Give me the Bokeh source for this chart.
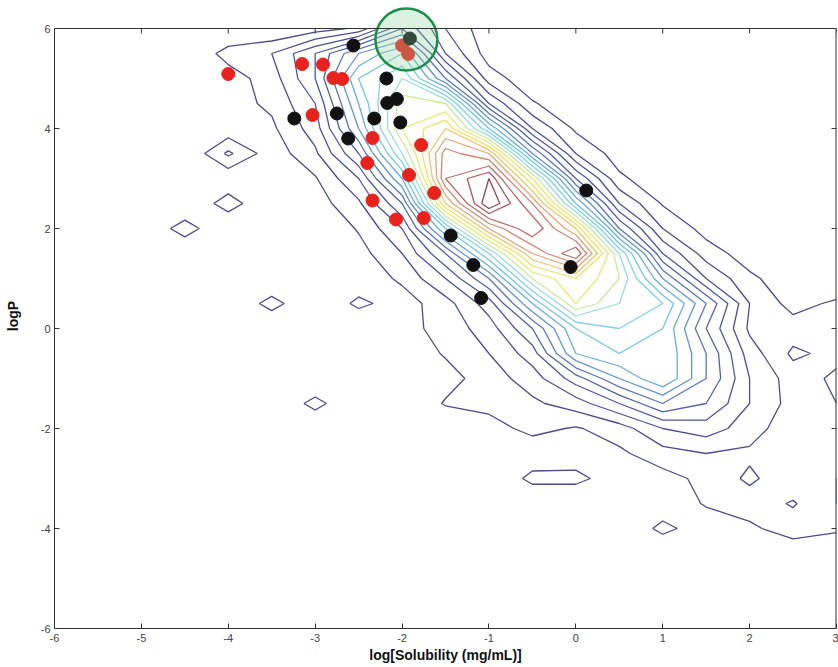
import numpy as np
from bokeh.plotting import figure
from bokeh.models import FixedTicker, Range1d, Span
from bokeh.embed import file_html
from bokeh.resources import INLINE

# ---------------- data ----------------
# density grid (compound counts), columns = grid_x, rows = grid_y (top row first)
grid_x = [-6.0, -5.5, -5.0, -4.5, -4.0, -3.5, -3.0, -2.5, -2.0, -1.5,
          -1.0, -0.5, 0.0, 0.5, 1.0, 1.5, 2.0, 2.5, 3.0]
grid_y = [6.0, 5.5, 5.0, 4.5, 4.0, 3.5, 3.0, 2.5, 2.0, 1.5, 1.0, 0.5, 0.0,
          -0.5, -1.0, -1.5, -2.0, -2.5, -3.0, -3.5, -4.0, -4.5, -5.0, -5.5, -6.0]
density_rows = [
    [0, 0, 0, 0, 0, 0, 0.5, 1.2, 5, 2, 0.3, 0, 0, 0, 0, 0, 0, 0, 0],
    [0, 0, 0, 0, 1.4, 2, 4, 7, 9, 3, 0.5, 0, 0, 0, 0, 0, 0, 0, 0],
    [0, 0, 0, 0, 0.5, 1.5, 4, 9, 11, 6, 1.5, 0.3, 0, 0, 0, 0, 0, 0, 0],
    [0, 0, 0, 0, 0.6, 1.2, 3, 8, 12.5, 12, 4, 1.1, 0.3, 0, 0, 0, 0, 0, 0],
    [0, 0, 0, 0, 0.3, 0.8, 2.5, 7, 13, 15, 9, 3, 0.8, 0.1, 0, 0, 0, 0, 0],
    [0, 0, 0, 0, 2.2, 0.4, 1.8, 5, 11, 17.5, 16, 7, 2, 0.5, 0, 0, 0, 0, 0],
    [0, 0, 0, 0, 0.2, 0.2, 0.9, 3, 8, 18, 20, 13, 5, 1.2, 0.3, 0, 0, 0, 0],
    [0, 0, 0, 0, 1.5, 0, 0.5, 1.8, 5, 15, 21, 17, 9, 3, 0.9, 0.2, 0, 0, 0],
    [0, 0, 0, 1.5, 0, 0, 0, 1.1, 3, 9, 16, 19, 15, 6, 2, 0.6, 0.1, 0, 0],
    [0, 0, 0, 0, 0, 0, 0, 0.6, 2, 5, 10, 16, 19, 11, 4, 1.5, 0.5, 0, 0],
    [0, 0, 0, 0, 0, 0, 0, 0.3, 1.2, 3, 6, 12, 14, 12, 7, 3, 1.2, 0.4, 0],
    [0, 0, 0, 0, 0, 1.4, 0, 1.25, 0.5, 1.6, 3.5, 8, 13, 11, 10, 6, 2, 0.6, 1.2],
    [0, 0, 0, 0, 0, 0, 0, 0, 0.6, 1.4, 2.5, 5, 9, 10, 9, 5, 1.8, 1.5, 1.2],
    [0, 0, 0, 0, 0, 0, 0, 0, 0.3, 1.1, 2, 3.5, 8, 9, 9, 6, 2.5, 0.8, 1.3],
    [0, 0, 0, 0, 0, 0, 0, 0, 0, 0.6, 1.5, 2.5, 4.5, 7, 9, 6, 3, 1.5, 0.8],
    [0, 0, 0, 0, 0, 0, 1.35, 0, 0, 1.1, 1.3, 1.8, 2.5, 4, 6, 5, 3, 1.6, 1.0],
    [0, 0, 0, 0, 0, 0, 0, 0, 0, 0, 0.6, 1.3, 0.9, 1.5, 3, 3.5, 2.5, 1.3, 1.1],
    [0, 0, 0, 0, 0, 0, 0, 0, 0, 0, 0, 0.3, 0.4, 0.8, 1.6, 2, 1.8, 1.2, 1.3],
    [0, 0, 0, 0, 0, 0, 0, 0, 0, 0, 0, 1.3, 1.3, 0.4, 0.6, 1.3, 2.2, 1.3, 1.0],
    [0, 0, 0, 0, 0, 0, 0, 0, 0, 0, 0, 0, 0, 0, 0.3, 1.1, 1.5, 2.1, 1.0],
    [0, 0, 0, 0, 0, 0, 0, 0, 0, 0, 0, 0, 0, 0, 1.3, 0.4, 0.8, 1.5, 1.1],
    [0, 0, 0, 0, 0, 0, 0, 0, 0, 0, 0, 0, 0, 0, 0, 0, 0, 0.3, 0.5],
    [0, 0, 0, 0, 0, 0, 0, 0, 0, 0, 0, 0, 0, 0, 0, 0, 0, 0, 0],
    [0, 0, 0, 0, 0, 0, 0, 0, 0, 0, 0, 0, 0, 0, 0, 0, 0, 0, 0],
    [0, 0, 0, 0, 0, 0, 0, 0, 0, 0, 0, 0, 0, 0, 0, 0, 0, 0, 0],
]
contour_levels = [1, 2, 3, 4, 5, 6, 7, 8, 9, 10, 11, 12, 13, 14, 15, 16, 17, 18, 19, 20]

# compounds (log solubility, logP)
black_x = [-2.56, -1.91, -2.18, -2.17, -2.06, -3.24, -2.75, -2.32, -2.02,
           -2.62, -1.44, -1.18, -1.09, -0.06, 0.12]
black_y = [5.66, 5.80, 5.00, 4.51, 4.59, 4.20, 4.30, 4.20, 4.12,
           3.80, 1.86, 1.27, 0.61, 1.23, 2.76]
red_x = [-4.00, -3.15, -2.91, -2.79, -2.69, -3.03, -2.34, -2.40, -1.92,
         -1.78, -1.63, -2.34, -2.07, -1.75, -2.00, -1.93]
red_y = [5.09, 5.29, 5.28, 5.01, 4.99, 4.27, 3.81, 3.31, 3.07,
         3.67, 2.71, 2.56, 2.18, 2.21, 5.66, 5.49]
highlight_x = [-1.95]
highlight_y = [5.78]

x_ticks = [-6, -5, -4, -3, -2, -1, 0, 1, 2, 3]
y_ticks = [-6, -4, -2, 0, 2, 4, 6]
x_lo, x_hi = -6, 3
y_lo, y_hi = -6, 6

# ---------------- styling ----------------
palette = ["#4b4a8c", "#4b4a8e", "#4c4f94", "#4d569c", "#5060a8",
           "#5876ba", "#6292cc", "#68acdc", "#6cc6e2", "#80d2e4",
           "#9adcd8", "#cce8a0", "#e6ea74", "#f2e062", "#eec46c",
           "#e2a676", "#d08678", "#be6c6c", "#a85662", "#904454"]
BOX = "#333333"

W, H = 838, 667
LEFT, RIGHT, TOP, BOTTOM = 54, 2, 3, 39
PX_PER_Y = 50.0                      # 600 px for the 12 logP units of the box
head_room = (28 - TOP) / PX_PER_Y    # white room above the box for the ring
px_x = (x_hi - x_lo) / (W - LEFT - RIGHT)
px_y = 1.0 / PX_PER_Y

z = np.array(density_rows[::-1], dtype=float)
ys = grid_y[::-1]

p = figure(width=W, height=H, x_range=Range1d(x_lo, x_hi),
           y_range=Range1d(y_lo, y_hi + head_room),
           output_backend="svg", toolbar_location=None,
           min_border_left=LEFT, min_border_right=RIGHT, min_border_top=TOP,
           min_border_bottom=BOTTOM)
p.background_fill_color = "white"
p.border_fill_color = "white"
p.grid.visible = False
p.outline_line_color = None

p.contour(grid_x, ys, z, contour_levels, line_color=palette, line_width=1.3)

p.scatter(red_x, red_y, size=13, marker="circle", fill_color="#e8231e",
          line_color="#e8231e")
p.scatter(black_x, black_y, size=13, marker="circle", fill_color="#111111",
          line_color="#111111")

# box: top line and right line, with inward ticks
p.add_layout(Span(location=y_hi, dimension="width", line_color=BOX, line_width=1))
p.segment(x0=[x_hi], y0=[y_lo], x1=[x_hi], y1=[y_hi], line_color=BOX, line_width=2)
p.segment(x0=x_ticks, y0=[y_hi] * len(x_ticks), x1=x_ticks,
          y1=[y_hi - 5 * px_y] * len(x_ticks), line_color=BOX, line_width=1)
p.segment(x0=[x_hi] * len(y_ticks), y0=y_ticks, x1=[x_hi - 5 * px_x] * len(y_ticks),
          y1=y_ticks, line_color=BOX, line_width=1)

# highlight ring around the top compound (spills over the box top)
p.scatter(highlight_x, highlight_y, size=62, marker="circle",
          fill_color="#8fcf9c", fill_alpha=0.3, line_color="#17914a",
          line_width=2.5)

font = "Liberation Sans"
for ax in (p.xaxis[0], p.yaxis[0]):
    ax.major_tick_in = 5
    ax.major_tick_out = 0
    ax.minor_tick_line_color = None
    ax.axis_line_color = BOX
    ax.major_tick_line_color = BOX
    ax.major_label_text_font = font
    ax.major_label_text_font_size = "11px"
    ax.major_label_text_color = "#444444"
    ax.axis_label_text_font = font
    ax.axis_label_text_font_size = "14px"
    ax.axis_label_text_font_style = "bold"
    ax.axis_label_text_color = "#111111"

p.xaxis.ticker = FixedTicker(ticks=x_ticks)
p.yaxis.ticker = FixedTicker(ticks=y_ticks)
p.yaxis.bounds = (y_lo, y_hi)
p.xaxis.major_label_overrides = {t: str(t) for t in x_ticks}
p.yaxis.major_label_overrides = {t: str(t) for t in y_ticks}
p.xaxis.axis_label = "log[Solubility (mg/mL)]"
p.yaxis.axis_label = "logP"
p.xaxis.major_label_standoff = 5
p.yaxis.major_label_standoff = 4
p.xaxis.axis_label_standoff = 2
p.yaxis.axis_label_standoff = 17

open("out.html", "w").write(file_html(p, INLINE))
